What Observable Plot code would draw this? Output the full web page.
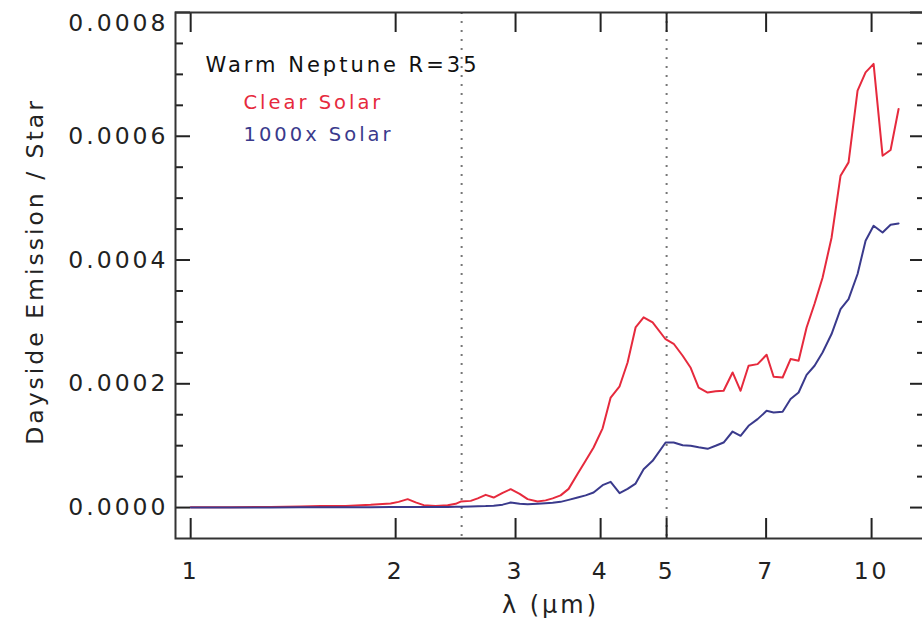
<!DOCTYPE html>
<html>
<head>
<meta charset="utf-8">
<script src="https://cdn.jsdelivr.net/npm/d3@7"></script>
<script src="https://cdn.jsdelivr.net/npm/@observablehq/plot@0.6"></script>
<style>
  html, body { margin: 0; padding: 0; background: #fff; }
  #chart svg { display: block; }
  #chart svg text { letter-spacing: 3px; }
</style>
</head>
<body>
<div id="chart"></div>
<script>
// Wavelength grid (μm) shared by both spectra
const wavelength = [
  1.000, 1.145, 1.311, 1.450, 1.552, 1.689, 1.838, 1.966, 2.020, 2.083,
  2.140, 2.199, 2.289, 2.385, 2.450, 2.492, 2.578, 2.640, 2.712, 2.786,
  2.872, 2.951, 3.042, 3.125, 3.232, 3.321, 3.401, 3.494, 3.590, 3.701,
  3.802, 3.906, 4.027, 4.138, 4.265, 4.382, 4.502, 4.626, 4.769, 4.983,
  5.121, 5.279, 5.424, 5.572, 5.744, 5.901, 6.063, 6.250, 6.421, 6.597,
  6.801, 7.012, 7.180, 7.402, 7.604, 7.813, 8.027, 8.246, 8.472, 8.734,
  9.004, 9.251, 9.537, 9.799, 10.068, 10.379, 10.664, 10.956
];

// Dayside emission / star, in units of 1e-6
const clearSolar = [
  0.3, 0.3, 1.1, 1.9, 2.7, 2.7, 4.4, 6.5, 9.2, 13.6,
  8.4, 3.9, 2.7, 3.6, 6.0, 9.7, 10.8, 14.9, 20.5, 16.2,
  23.8, 29.7, 22.2, 13.6, 9.7, 11.6, 14.9, 19.7, 30.2, 54.5,
  75.5, 97.0, 128.0, 177.8, 196.0, 234.4, 291.0, 307.5, 299.1, 272.0,
  264.7, 245.3, 225.9, 194.0, 185.9, 187.9, 188.7, 218.3, 188.7, 229.1,
  231.8, 246.9, 211.3, 210.2, 239.9, 237.2, 291.0, 329.3, 371.4, 436.0,
  536.3, 557.8, 673.7, 703.3, 716.9, 568.6, 577.8, 644.1
];
const solar1000x = [
  0.0, 0.0, 0.2, 0.3, 0.5, 0.5, 0.6, 0.8, 0.8, 1.0,
  1.0, 1.1, 1.1, 1.1, 1.3, 1.5, 1.8, 2.1, 2.4, 3.1,
  4.7, 8.1, 6.0, 5.5, 6.3, 7.1, 7.9, 9.2, 12.4, 16.2,
  19.7, 24.3, 36.2, 41.6, 23.3, 30.2, 38.8, 61.8, 75.5, 105.1,
  105.1, 100.6, 99.8, 97.3, 94.9, 99.8, 105.1, 122.9, 115.9, 132.1,
  142.9, 156.3, 153.6, 154.7, 175.3, 185.9, 214.5, 229.1, 250.6, 280.4,
  320.8, 336.9, 377.4, 431.2, 455.5, 444.6, 457.1, 459.2
];

const seriesNames = ["Clear Solar", "1000x Solar"];
const seriesColors = ["#e62a3d", "#3a3a8c"];
const titleText = ["Warm Neptune R=35"];

const xTicks = [1, 2, 3, 4, 5, 7, 10];
const yMajor = [0, 0.0002, 0.0004, 0.0006, 0.0008];
const yMinor = [0.00005, 0.0001, 0.00015, 0.00025, 0.0003, 0.00035,
                0.00045, 0.0005, 0.00055, 0.00065, 0.0007, 0.00075];
const markerLines = [2.5, 5];

const rows = [];
[clearSolar, solar1000x].forEach((vals, s) => {
  vals.forEach((v, i) => rows.push({lambda: wavelength[i], flux: v * 1e-6, series: seriesNames[s]}));
});

const W = 922, H = 624;
const mL = 175, mR = -3, mT = 12, mB = 86;
const innerW = W - mL - mR, innerH = H - mT - mB;
const font = "'DejaVu Sans', sans-serif";
const ink = "#222";
const yFmt = d => d.toFixed(4);

// one text mark per legend entry, stacked below the title
const legendMarks = seriesNames.map((name, i) =>
  Plot.text([name], {
    frameAnchor: "top-left", dx: 68, dy: 83 + i * 32, textAnchor: "start",
    fontSize: 19.5, fill: seriesColors[i]
  })
);

const chart = Plot.plot({
  width: W,
  height: H,
  marginLeft: mL,
  marginRight: mR,
  marginTop: mT,
  marginBottom: mB,
  style: {fontFamily: font, background: "#fff", color: "#000"},
  x: {type: "log", domain: [0.95, 12]},
  y: {domain: [-0.00005, 0.0008]},
  color: {domain: seriesNames, range: seriesColors},
  marks: [
    Plot.ruleX(markerLines, {stroke: "#777", strokeWidth: 2, strokeDasharray: "2,7"}),
    Plot.line(rows, {x: "lambda", y: "flux", z: "series", stroke: "series", strokeWidth: 2, curve: "linear"}),
    // tick marks drawn inward on all four sides
    Plot.tickX(xTicks, {x: d => d, insetTop: innerH - 20, stroke: ink, strokeWidth: 2}),
    Plot.tickX(xTicks, {x: d => d, insetBottom: innerH - 20, stroke: ink, strokeWidth: 2}),
    Plot.tickY(yMajor, {y: d => d, insetRight: innerW - 15, stroke: ink, strokeWidth: 2}),
    Plot.tickY(yMinor, {y: d => d, insetRight: innerW - 8, stroke: ink, strokeWidth: 2}),
    Plot.tickY(yMajor, {y: d => d, insetLeft: innerW - 15, stroke: ink, strokeWidth: 2}),
    Plot.tickY(yMinor, {y: d => d, insetLeft: innerW - 8, stroke: ink, strokeWidth: 2}),
    Plot.frame({stroke: "#333", strokeWidth: 2}),
    Plot.axisX({
      ticks: xTicks, tickSize: 0, tickPadding: 24, label: null,
      tickFormat: d => String(d), fontSize: 23.5, fill: ink
    }),
    Plot.axisY({
      ticks: yMajor.slice(0, -1), tickSize: 0, tickPadding: 7, label: null,
      tickFormat: yFmt, fontSize: 23.5, fill: ink
    }),
    // the topmost label sits just below the frame's top edge
    Plot.axisY({
      ticks: yMajor.slice(-1), tickSize: 0, tickPadding: 7, label: null,
      tickFormat: yFmt, fontSize: 23.5, fill: ink, dy: 11
    }),
    Plot.text(["Dayside Emission / Star"], {
      frameAnchor: "left", textAnchor: "middle", rotate: -90, dx: -140, dy: -4,
      fontSize: 23.5, fill: ink
    }),
    Plot.text(["λ (μm)"], {
      frameAnchor: "bottom", dy: 74, fontSize: 24, fill: ink
    }),
    Plot.text(titleText, {
      frameAnchor: "top-left", dx: 30, dy: 45, textAnchor: "start", fontSize: 21, fill: "#111"
    }),
    ...legendMarks
  ]
});

document.getElementById("chart").append(chart);
</script>
</body>
</html>
